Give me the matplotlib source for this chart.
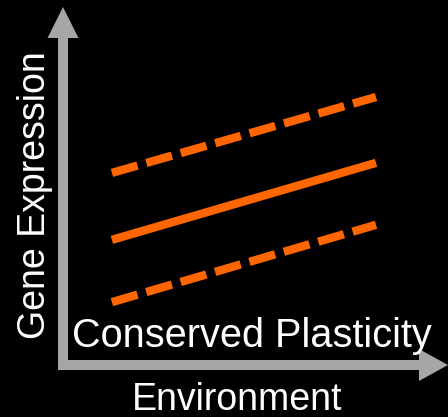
import matplotlib
matplotlib.use("Agg")
import matplotlib.pyplot as plt
from matplotlib.patches import FancyArrow

# Reaction norms: environment on x, gene expression on y (arbitrary units)
environment = [1.27, 8.13]
upper_bound = [5.45, 7.57]
mean_expr = [3.58, 5.73]
lower_bound = [1.84, 4.00]

x_label = "Environment"
y_label = "Gene Expression"
title = "Conserved Plasticity"

orange = "#ff6600"
grey = "#a6a6a6"

fig = plt.figure(figsize=(4.48, 4.17), dpi=100, facecolor="black")

# background axes in pixel units for the arrows and text
bg = fig.add_axes([0, 0, 1, 1])
bg.set_xlim(0, 448)
bg.set_ylim(417, 0)
bg.axis("off")
bg.set_facecolor("black")

bg.add_patch(FancyArrow(63, 370, 0, -363, width=10, head_width=31, head_length=31,
                        length_includes_head=True, color=grey, lw=0))
bg.add_patch(FancyArrow(58, 365, 390, 0, width=10, head_width=32, head_length=29,
                        length_includes_head=True, color=grey, lw=0))

font = "Liberation Sans"
bg.text(252, 347, title, color="white", fontsize=28.6, family=font,
        ha="center", va="baseline")
bg.text(237, 410, x_label, color="white", fontsize=27, family=font,
        ha="center", va="baseline")
bg.text(45, 195, y_label, color="white", fontsize=27, family=font,
        ha="center", va="baseline", rotation=90, rotation_mode="anchor")

# data axes sitting on the arrow frame
ax = fig.add_axes([63 / 448, 49 / 417, 385 / 448, 358 / 417])
ax.set_xlim(0, 10)
ax.set_ylim(0, 10)
ax.axis("off")

ax.plot(environment, upper_bound, color=orange, lw=6, linestyle=(0, (3.2, 1.1)),
        solid_capstyle="butt", dash_capstyle="butt")
ax.plot(environment, mean_expr, color=orange, lw=6, solid_capstyle="butt")
ax.plot(environment, lower_bound, color=orange, lw=6, linestyle=(0, (3.2, 1.1)),
        solid_capstyle="butt", dash_capstyle="butt")

fig.savefig("out.png", dpi=100, facecolor="black")
